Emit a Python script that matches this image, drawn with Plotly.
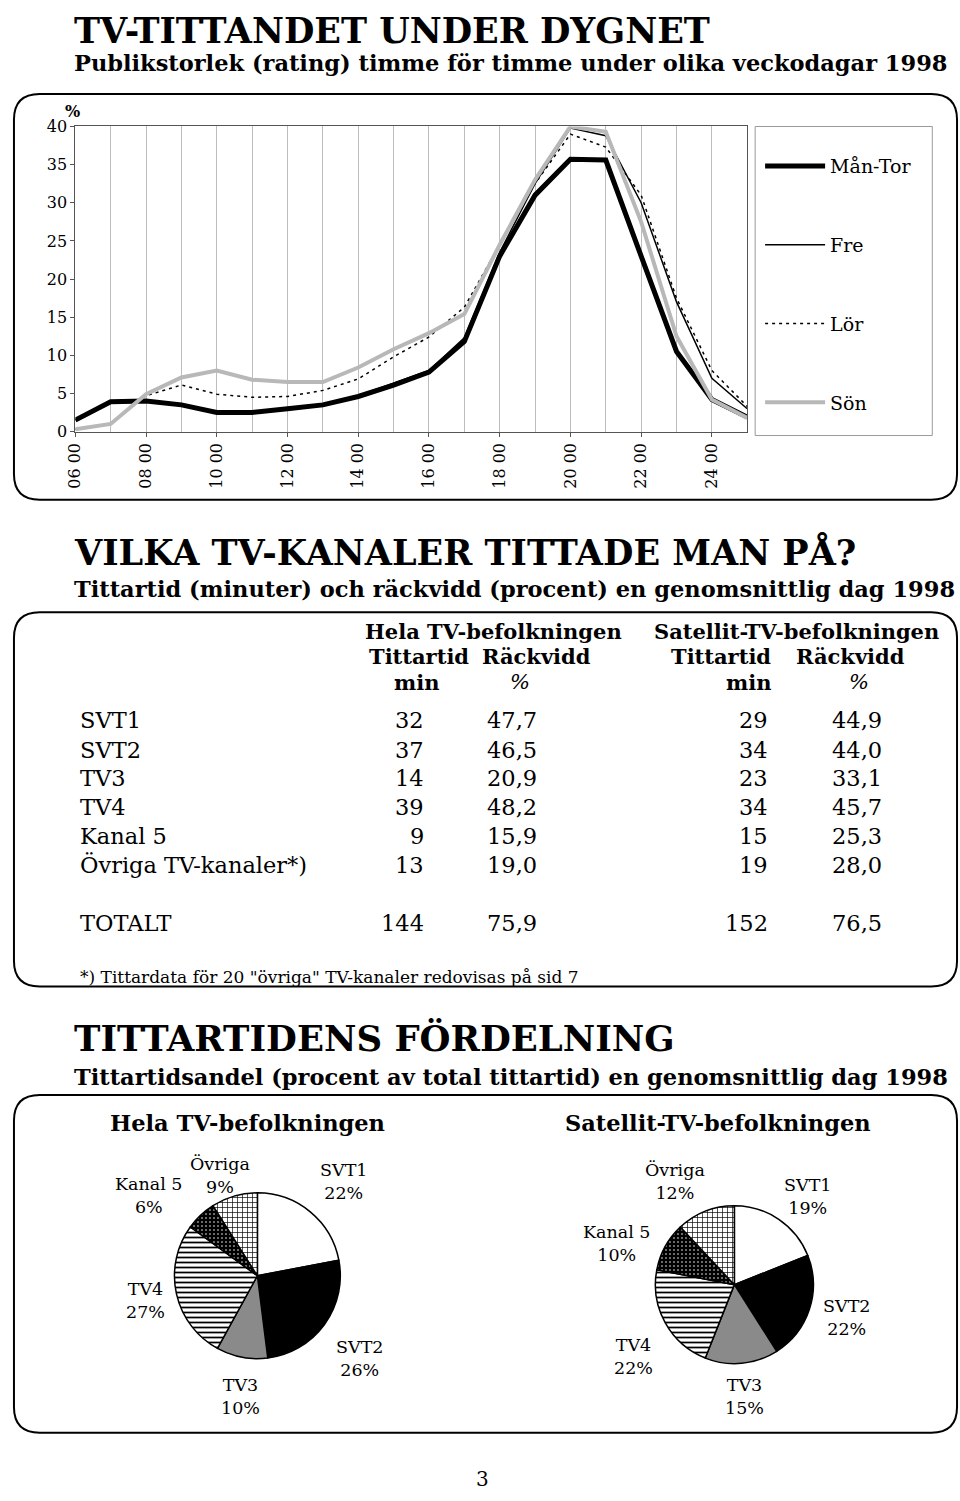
import plotly.graph_objects as go

# ---------------- data ----------------
hours = list(range(6, 26))
hour_ticks = [6, 8, 10, 12, 14, 16, 18, 20, 22, 24]
hour_ticktext = ["06 00", "08 00", "10 00", "12 00", "14 00", "16 00", "18 00", "20 00", "22 00", "24 00"]

man_tor = [1.5, 3.9, 4.0, 3.5, 2.5, 2.5, 3.0, 3.5, 4.6, 6.1, 7.8, 11.8, 23.0, 31.0, 35.7, 35.6, 23.0, 10.5, 4.2, 1.9]
fre = [1.5, 3.9, 4.0, 3.5, 2.6, 2.6, 3.1, 3.6, 4.7, 6.3, 8.0, 12.3, 23.5, 32.5, 39.8, 38.8, 30.0, 17.0, 7.0, 3.0]
lor = [0.3, 1.0, 4.7, 6.1, 4.9, 4.5, 4.6, 5.4, 6.9, 9.8, 12.4, 16.3, 24.5, 32.5, 39.0, 37.3, 31.0, 17.5, 8.0, 3.3]
son = [0.3, 1.0, 4.9, 7.1, 8.0, 6.8, 6.5, 6.5, 8.4, 10.8, 12.9, 15.4, 24.5, 33.0, 40.0, 39.3, 27.5, 12.5, 4.2, 1.8]
series_names = ["Mån-Tor", "Fre", "Lör", "Sön"]

channels = ["SVT1", "SVT2", "TV3", "TV4", "Kanal 5", "Övriga TV-kanaler*)"]
tid_hela = [32, 37, 14, 39, 9, 13]
rv_hela = [47.7, 46.5, 20.9, 48.2, 15.9, 19.0]
tid_sat = [29, 34, 23, 34, 15, 19]
rv_sat = [44.9, 44.0, 33.1, 45.7, 25.3, 28.0]
total_label = "TOTALT"
tot_tid_hela, tot_rv_hela, tot_tid_sat, tot_rv_sat = 144, 75.9, 152, 76.5

pie_labels = ["SVT1", "SVT2", "TV3", "TV4", "Kanal 5", "Övriga"]
andel_hela = [22, 26, 10, 27, 6, 9]
andel_sat = [19, 22, 15, 22, 10, 12]

# ---------------- layout helpers ----------------
W, H = 960, 1501
FONT = "DejaVu Serif"


def px(x):
    return x / W


def py(y):
    return 1 - y / H


annotations = []
shapes = []


def txt(x, y, s, size, bold=False, xanchor="left", yanchor="middle"):
    annotations.append(dict(
        x=px(x), y=py(y), xref="paper", yref="paper",
        text=f"<b>{s}</b>" if bold else s, showarrow=False,
        xanchor=xanchor, yanchor=yanchor, borderpad=0,
        font=dict(family=FONT, size=size, color="black")))


def rrect(x0, y0, x1, y1, r, color="black", width=2):
    p = (f"M {px(x0 + r)},{py(y0)} L {px(x1 - r)},{py(y0)} "
         f"Q {px(x1)},{py(y0)} {px(x1)},{py(y0 + r)} "
         f"L {px(x1)},{py(y1 - r)} Q {px(x1)},{py(y1)} {px(x1 - r)},{py(y1)} "
         f"L {px(x0 + r)},{py(y1)} Q {px(x0)},{py(y1)} {px(x0)},{py(y1 - r)} "
         f"L {px(x0)},{py(y0 + r)} Q {px(x0)},{py(y0)} {px(x0 + r)},{py(y0)} Z")
    shapes.append(dict(type="path", path=p, xref="paper", yref="paper",
                       line=dict(color=color, width=width), layer="below"))


def fmt(v):
    return f"{v:.1f}".replace(".", ",")


fig = go.Figure()

# ---------------- line chart ----------------
styles = {
    "Mån-Tor": dict(color="black", width=5),
    "Fre": dict(color="black", width=1.5),
    "Lör": dict(color="black", width=1.5, dash="3px,4px"),
    "Sön": dict(color="#b8b8b8", width=4),
}
for name, vals in zip(series_names, [man_tor, fre, lor, son]):
    fig.add_trace(go.Scatter(x=hours, y=vals, mode="lines", name=name,
                             legendgroup=name, line=styles[name],
                             xaxis="x", yaxis="y"))

# ---------------- pies ----------------
pie_colors = ["white", "black", "#8a8a8a", "white", "black", "white"]
pat = dict(fillmode="replace",
           shape=["", "", "", "-", ".", "+"],
           fgcolor=["black", "black", "black", "black", "white", "black"],
           bgcolor=pie_colors,
           size=[6, 6, 6, 5, 4, 5],
           solidity=[0.3, 0.3, 0.3, 0.35, 0.12, 0.25])


def add_pie(vals, cx, cy, r):
    fig.add_trace(go.Pie(
        values=vals, labels=pie_labels, sort=False, direction="clockwise",
        rotation=0, textinfo="none", hoverinfo="label+value",
        showlegend=False,
        marker=dict(colors=pie_colors, line=dict(color="black", width=1.5), pattern=pat),
        domain=dict(x=[px(cx - r), px(cx + r)], y=[py(cy + r), py(cy - r)])))


add_pie(andel_hela, 250, 1283, 84)
add_pie(andel_sat, 732, 1292, 80)

BL, BR, RAD = 4, 957, 26  # rounded boxes

# ---------------- text: section 1 ----------------
txt(64, 0, "TV-TITTANDET UNDER DYGNET", 35, bold=True, yanchor="top")
txt(64, 55, "Publikstorlek (rating) timme för timme under olika veckodagar 1998", 22.5, bold=True)
rrect(BL, 86, BR, 497, RAD)
txt(63, 104, "%", 16, bold=True, xanchor="center")
shapes.append(dict(type="rect", xref="paper", yref="paper",
                   x0=px(753), x1=px(932), y0=py(432), y1=py(119),
                   line=dict(color="#999", width=1)))

# ---------------- section 2: table ----------------
txt(64, 550, "VILKA TV-KANALER TITTADE MAN PÅ?", 35, bold=True)
txt(64, 587, "Tittartid (minuter) och räckvidd (procent) en genomsnittlig dag 1998", 22.5, bold=True)
rrect(BL, 611, BR, 990, RAD)

HS = 21
txt(489, 630, "Hela TV-befolkningen", HS, bold=True, xanchor="center")
txt(795, 630, "Satellit-TV-befolkningen", HS, bold=True, xanchor="center")
txt(413, 656, "Tittartid", HS, bold=True, xanchor="center")
txt(532, 656, "Räckvidd", HS, bold=True, xanchor="center")
txt(718, 656, "Tittartid", HS, bold=True, xanchor="center")
txt(849, 656, "Räckvidd", HS, bold=True, xanchor="center")
txt(411, 682, "min", HS, bold=True, xanchor="center")
txt(515, 682, "<i>%</i>", HS, xanchor="center")
txt(746, 682, "min", HS, bold=True, xanchor="center")
txt(858, 682, "<i>%</i>", HS, xanchor="center")

RS = 22.5
row_y = [720, 750, 779, 808, 838, 867]
for i, ch in enumerate(channels):
    y = row_y[i]
    txt(70, y, ch, RS)
    txt(419, y, str(tid_hela[i]), RS, xanchor="right")
    txt(534, y, fmt(rv_hela[i]), RS, xanchor="right")
    txt(767, y, str(tid_sat[i]), RS, xanchor="right")
    txt(882, y, fmt(rv_sat[i]), RS, xanchor="right")
txt(70, 926, total_label, RS)
txt(419, 926, str(tot_tid_hela), RS, xanchor="right")
txt(534, 926, fmt(tot_rv_hela), RS, xanchor="right")
txt(767, 926, str(tot_tid_sat), RS, xanchor="right")
txt(882, 926, fmt(tot_rv_sat), RS, xanchor="right")
txt(70, 980, '*) Tittardata för 20 "övriga" TV-kanaler redovisas på sid 7', 17)

# ---------------- section 3: pies ----------------
txt(64, 1042, "TITTARTIDENS FÖRDELNING", 35.5, bold=True)
txt(64, 1082, "Tittartidsandel (procent av total tittartid) en genomsnittlig dag 1998", 22.5, bold=True)
rrect(BL, 1100, BR, 1442, RAD)
txt(240, 1128, "Hela TV-befolkningen", 22.5, bold=True, xanchor="center")
txt(715, 1128, "Satellit-TV-befolkningen", 22.5, bold=True, xanchor="center")

pos_hela = [(337, 1188), (353, 1367), (233, 1405), (137, 1308), (140, 1202), (212, 1181)]
pos_sat = [(806, 1203), (845, 1325), (742, 1405), (630, 1365), (613, 1250), (672, 1188)]
LS = 17.5
for lab, v, (x, y) in zip(pie_labels, andel_hela, pos_hela):
    txt(x, y, f"{lab}<br>{v}%", LS, xanchor="center")
for lab, v, (x, y) in zip(pie_labels, andel_sat, pos_sat):
    txt(x, y, f"{lab}<br>{v}%", LS, xanchor="center")

txt(477, 1489, "3", 20, xanchor="center")

# ---------------- layout ----------------
fig.update_layout(
    width=W, height=H, margin=dict(l=0, r=0, t=0, b=0),
    paper_bgcolor="white", plot_bgcolor="white",
    font=dict(family=FONT, color="black"),
    xaxis=dict(domain=[px(66), px(745)], range=[6, 25],
               tickmode="array", tickvals=hour_ticks, ticktext=hour_ticktext,
               tickangle=-90, tickfont=dict(family=FONT, size=16),
               showgrid=True, gridcolor="#bdbdbd", gridwidth=1,
               minor=dict(dtick=1, tick0=6, showgrid=True, gridcolor="#bdbdbd", gridwidth=1),
               showline=True, linecolor="#555", mirror=True, zeroline=False,
               ticks="outside", ticklen=4, tickcolor="#555", fixedrange=True),
    yaxis=dict(domain=[py(428), py(119)], range=[0, 40], dtick=5,
               tickfont=dict(family=FONT, size=16), showgrid=False,
               showline=True, linecolor="#555", mirror=True, zeroline=False,
               ticks="outside", ticklen=4, tickcolor="#555", fixedrange=True),
    legend=dict(x=px(758), y=py(140), xanchor="left", yanchor="top",
                font=dict(family=FONT, size=19), tracegroupgap=51,
                bgcolor="rgba(0,0,0,0)", itemwidth=60),
    annotations=annotations, shapes=shapes,
)

fig.write_html("out.html", config={"displayModeBar": False},
               post_script="document.body.style.margin='0';")
